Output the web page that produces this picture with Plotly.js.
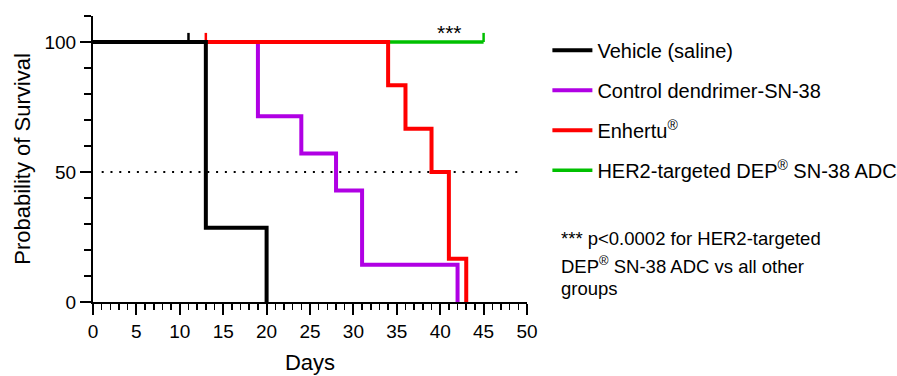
<!DOCTYPE html>
<html>
<head>
<meta charset="utf-8">
<script src="https://cdn.plot.ly/plotly-3.0.1.min.js"></script>
<style>html,body{margin:0;padding:0;background:#fff;}#chart{width:897px;height:376px;}</style>
</head>
<body>
<div id="chart"></div>
<script>
// Kaplan-Meier step data (days, % survival)
const seriesNames = ["Vehicle (saline)", "Control dendrimer-SN-38", "Enhertu<sup>®</sup>", "HER2-targeted DEP<sup>®</sup> SN-38 ADC"];
const vehicleDays = [0, 13, 20];
const vehicleSurv = [100, 28.57, 0];
const vehicleCensDays = [11];
const vehicleCensSurv = [100];

const controlDays = [0, 19, 24, 28, 31, 42];
const controlSurv = [100, 71.43, 57.14, 42.86, 14.29, 0];

const enhertuDays = [0, 34, 36, 39, 41, 43];
const enhertuSurv = [100, 83.33, 66.67, 50, 16.67, 0];
const enhertuCensDays = [13];
const enhertuCensSurv = [100];

const her2Days = [0, 45];
const her2Surv = [100, 100];
const her2CensDays = [45];
const her2CensSurv = [100];

const medianLevel = 50;
const xTickStep = 5, yTickStep = 50;
const sigText = "***";
const sigDay = 41.1, sigLevel = 103.5;
const footnoteLines = ["*** p&lt;0.0002 for HER2-targeted", "DEP<sup>®</sup> SN-38 ADC vs all other", "groups"];

const colors = ["#000000", "#b000e4", "#ff0000", "#00c000"];
const font = "Arial, 'Liberation Sans', sans-serif";

function step(x, y, name, color, width, group, rank) {
  return {x: x, y: y, name: name, type: "scatter", mode: "lines",
    line: {shape: "hv", color: color, width: width},
    legendgroup: group, legendrank: rank, showlegend: true, cliponaxis: false, hoverinfo: "skip"};
}
function cens(x, y, color, group) {
  return {x: x, y: y, type: "scatter", mode: "markers",
    marker: {size: 1, color: color, opacity: 0},
    error_y: {type: "constant", value: 3.5, valueminus: 0, symmetric: false, width: 0, thickness: 2.5, color: color},
    legendgroup: group, showlegend: false, cliponaxis: false, hoverinfo: "skip"};
}

const traces = [
  step(her2Days, her2Surv, seriesNames[3], colors[3], 3.5, "d", 4),
  cens(her2CensDays, her2CensSurv, colors[3], "d"),
  step(controlDays, controlSurv, seriesNames[1], colors[1], 4, "b", 2),
  step(enhertuDays, enhertuSurv, seriesNames[2], colors[2], 4, "c", 3),
  cens(enhertuCensDays, enhertuCensSurv, colors[2], "c"),
  step(vehicleDays, vehicleSurv, seriesNames[0], colors[0], 4, "a", 1),
  cens(vehicleCensDays, vehicleCensSurv, colors[0], "a")
];

const annotations = [
  {x: sigDay, y: sigLevel, xref: "x", yref: "y", text: sigText, showarrow: false,
   font: {family: font, size: 21, color: "#000"}}
];
const fnTop = [0.265, 0.18, 0.092];
footnoteLines.forEach((t, i) => annotations.push({
  x: 1.073, y: fnTop[i], xref: "paper", yref: "paper", xanchor: "left", yanchor: "top",
  text: t, showarrow: false, align: "left", font: {family: font, size: 18.5, color: "#000"}
}));

const layout = {
  width: 897, height: 376,
  margin: {l: 93, r: 370, t: 16, b: 74, autoexpand: false},
  paper_bgcolor: "#fff", plot_bgcolor: "#fff",
  font: {family: font, color: "#000"},
  showlegend: true,
  legend: {x: 1.047, y: 0.948, xanchor: "left", yanchor: "top",
    font: {family: font, size: 20, color: "#000"},
    tracegroupgap: 11, traceorder: "grouped", itemwidth: 40, bgcolor: "rgba(0,0,0,0)"},
  xaxis: {range: [0, 50], dtick: xTickStep, tick0: 0, showline: true, linewidth: 2, linecolor: "#000",
    ticks: "outside", ticklen: 11, tickwidth: 2, tickcolor: "#000",
    minor: {dtick: 1, ticks: "outside", ticklen: 6, tickwidth: 1.5, tickcolor: "#000"},
    showgrid: false, zeroline: false, tickfont: {family: font, size: 19},
    title: {text: "Days", font: {family: font, size: 22}, standoff: 14}},
  yaxis: {range: [0, 110], dtick: yTickStep, tick0: 0, showline: true, linewidth: 2, linecolor: "#000",
    ticks: "outside", ticklen: 11, tickwidth: 2, tickcolor: "#000",
    minor: {dtick: 10, ticks: "outside", ticklen: 7, tickwidth: 1.5, tickcolor: "#000"},
    showgrid: false, zeroline: false, tickfont: {family: font, size: 19},
    title: {text: "Probability of Survival", font: {family: font, size: 22}, standoff: 8}},
  shapes: [{type: "line", xref: "paper", x0: 0.02, x1: 0.985, yref: "y", y0: medianLevel, y1: medianLevel,
    line: {color: "#000", width: 2, dash: "2px,6.8px"}, layer: "below"}],
  annotations: annotations
};

Plotly.newPlot("chart", traces, layout, {displayModeBar: false, staticPlot: true});
</script>
</body>
</html>
